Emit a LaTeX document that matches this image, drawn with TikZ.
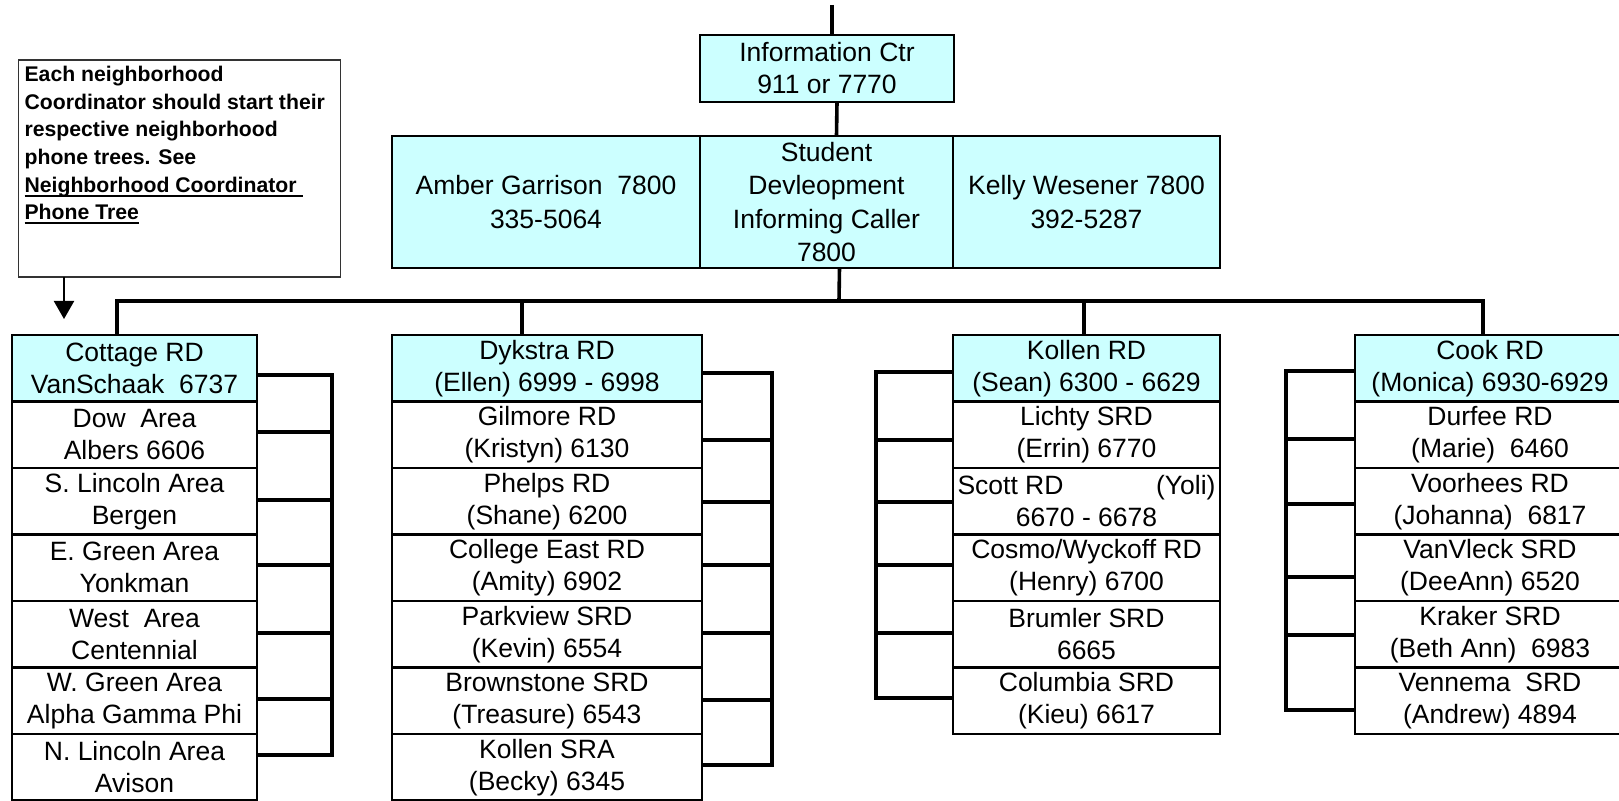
\documentclass[tikz,border=0pt]{standalone}
\usepackage{fontspec}
\setmainfont{Liberation Sans}
\usetikzlibrary{arrows.meta,positioning,calc}
\definecolor{headcyan}{HTML}{CCFFFF}
\definecolor{noteline}{HTML}{333333}
\newcommand{\cellfont}{\fontsize{13.25}{16}\selectfont}
\newcommand{\noteul}[1]{\leavevmode\setbox0\hbox{#1}\rlap{\rule[-2.2pt]{\wd0}{1pt}}\box0}
\tikzset{
  cellbox/.style={draw,line width=1.3pt,outer sep=0pt,inner sep=0pt,minimum height=33.25pt,align=center,font=\cellfont},
  headbox/.style={cellbox,fill=headcyan},
  toprow/.style={headbox,minimum height=66pt,font=\fontsize{13.25}{16.6}\selectfont},
  link/.style={line width=1.8pt},
  notebox/.style={draw=noteline,line width=0.8pt,inner sep=3pt,outer sep=0pt,font=\fontsize{10.6}{13.85}\selectfont\bfseries},
  notearrow/.style={line width=1pt,-{Triangle[width=10pt,length=9pt]}},
}

\begin{document}
\begin{tikzpicture}[x=0.5pt,y=-0.5pt,node distance=0pt]
\useasboundingbox (0,0) rectangle (1619,801);
\clip (0,0) rectangle (1619,801);

% top of the tree
\node[headbox,anchor=north west,minimum width=127pt,minimum height=33.5pt] (info) at (700,35) {Information Ctr\\911 or 7770};
\node[toprow,anchor=north west,minimum width=126.5pt] (stu) at (700,136) {Student\\Devleopment\\Informing Caller\\7800};
\node[toprow,left=of stu,minimum width=154pt] (amber) {Amber Garrison~~7800\\335-5064};
\node[toprow,right=of stu,minimum width=133.5pt] (kelly) {Kelly Wesener 7800\\392-5287};

% note box
\node[notebox,anchor=north west] (note) at (18.6,60) {\parbox[t][102.5pt][t]{155pt}{\raggedright
  Each neighborhood\\Coordinator should start their\\respective neighborhood\\phone trees. See\\
  \noteul{Neighborhood Coordinator\ }\\\noteul{Phone Tree}}};

% Cottage column
\node[headbox,anchor=north west,minimum width=122.5pt] (cot0) at (12,335) {Cottage RD\\VanSchaak~~6737};
\foreach \txt [count=\i, remember=\i as \j (initially 0)] in {{Dow~~Area\\Albers 6606},{S. Lincoln Area\\Bergen},
    {E. Green Area\\Yonkman},{West~~Area\\Centennial},{W. Green Area\\Alpha Gamma Phi},{N. Lincoln Area\\Avison}}
  \node[cellbox,minimum width=122.5pt,below=of cot\j] (cot\i) {\txt};

% Dykstra column
\node[headbox,anchor=north west,minimum width=155pt] (dyk0) at (392,335) {Dykstra RD\\(Ellen) 6999 - 6998};
\foreach \txt [count=\i, remember=\i as \j (initially 0)] in {{Gilmore RD\\(Kristyn) 6130},{Phelps RD\\(Shane) 6200},
    {College East RD\\(Amity) 6902},{Parkview SRD\\(Kevin) 6554},{Brownstone SRD\\(Treasure) 6543},{Kollen SRA\\(Becky) 6345}}
  \node[cellbox,minimum width=155pt,below=of dyk\j] (dyk\i) {\txt};

% Kollen column
\node[headbox,anchor=north west,minimum width=133.5pt] (kol0) at (953,335) {Kollen RD\\(Sean) 6300 - 6629};
\foreach \txt [count=\i, remember=\i as \j (initially 0)] in {{Lichty SRD\\(Errin) 6770},{\makebox[129pt]{Scott RD\hfill(Yoli)}\\6670 - 6678},
    {Cosmo/Wyckoff RD\\(Henry) 6700},{Brumler SRD\\6665},{Columbia SRD\\(Kieu) 6617}}
  \node[cellbox,minimum width=133.5pt,below=of kol\j] (kol\i) {\txt};

% Cook column
\node[headbox,anchor=north west,minimum width=135pt] (cook0) at (1355,335) {Cook RD\\(Monica) 6930-6929};
\foreach \txt [count=\i, remember=\i as \j (initially 0)] in {{Durfee RD\\(Marie)~~6460},{Voorhees RD\\(Johanna)~~6817},
    {VanVleck SRD\\(DeeAnn) 6520},{Kraker SRD\\(Beth Ann)~~6983},{Vennema~~SRD\\(Andrew) 4894}}
  \node[cellbox,minimum width=135pt,below=of cook\j] (cook\i) {\txt};

% links down the tree
\coordinate (feed) at (832,5);
\coordinate (bus) at (839,301);
\coordinate (notetip) at (64,319);
\draw[link] (feed) -- (feed |- info.north);
\draw[link] ($(info.south)+(10,0)$) -- ($(stu.north)+(10,0)$);
\draw[link] ($(stu.south)+(13,0)$) -- (bus);
\draw[link] ($(cot0.north west)+(105,0)$) |- (bus);
\draw[link] ($(dyk0.north west)+(130,0)$) |- (bus);
\draw[link] ($(kol0.north west)+(131,0)$) |- (bus);
\draw[link] ($(cook0.north west)+(128,0)$) |- (bus);
\draw[notearrow] (note.south -| notetip) -- (notetip);

% side brackets
\draw[link] ($(cot0.east)+(0,7)$) -- ++(75,0) |- ($(cot6.east)+(0,-12)$);
\foreach \i/\dy in {1/-3,2/-1,3/-3,4/-1,5/-2}
  \draw[link] ($(cot\i.east)+(0,\dy)$) -- ++(75,0);
\draw[link] ($(dyk0.east)+(0,5)$) -- ++(70,0) |- ($(dyk6.east)+(0,-2)$);
\foreach \i/\dy in {1/5,2/1,3/-3,4/-1,5/-1}
  \draw[link] ($(dyk\i.east)+(0,\dy)$) -- ++(70,0);
\draw[link] ($(kol0.west)+(0,4)$) -- ++(-77,0) |- ($(kol5.west)+(0,-3)$);
\foreach \i/\dy in {1/5,2/1,3/-3,4/-1}
  \draw[link] ($(kol\i.west)+(0,\dy)$) -- ++(-77,0);
\draw[link] ($(cook0.west)+(0,3)$) -- ++(-69,0) |- ($(cook5.west)+(0,9)$);
\foreach \i/\dy in {1/4,2/3,3/9,4/1}
  \draw[link] ($(cook\i.west)+(0,\dy)$) -- ++(-69,0);
\end{tikzpicture}
\end{document}
